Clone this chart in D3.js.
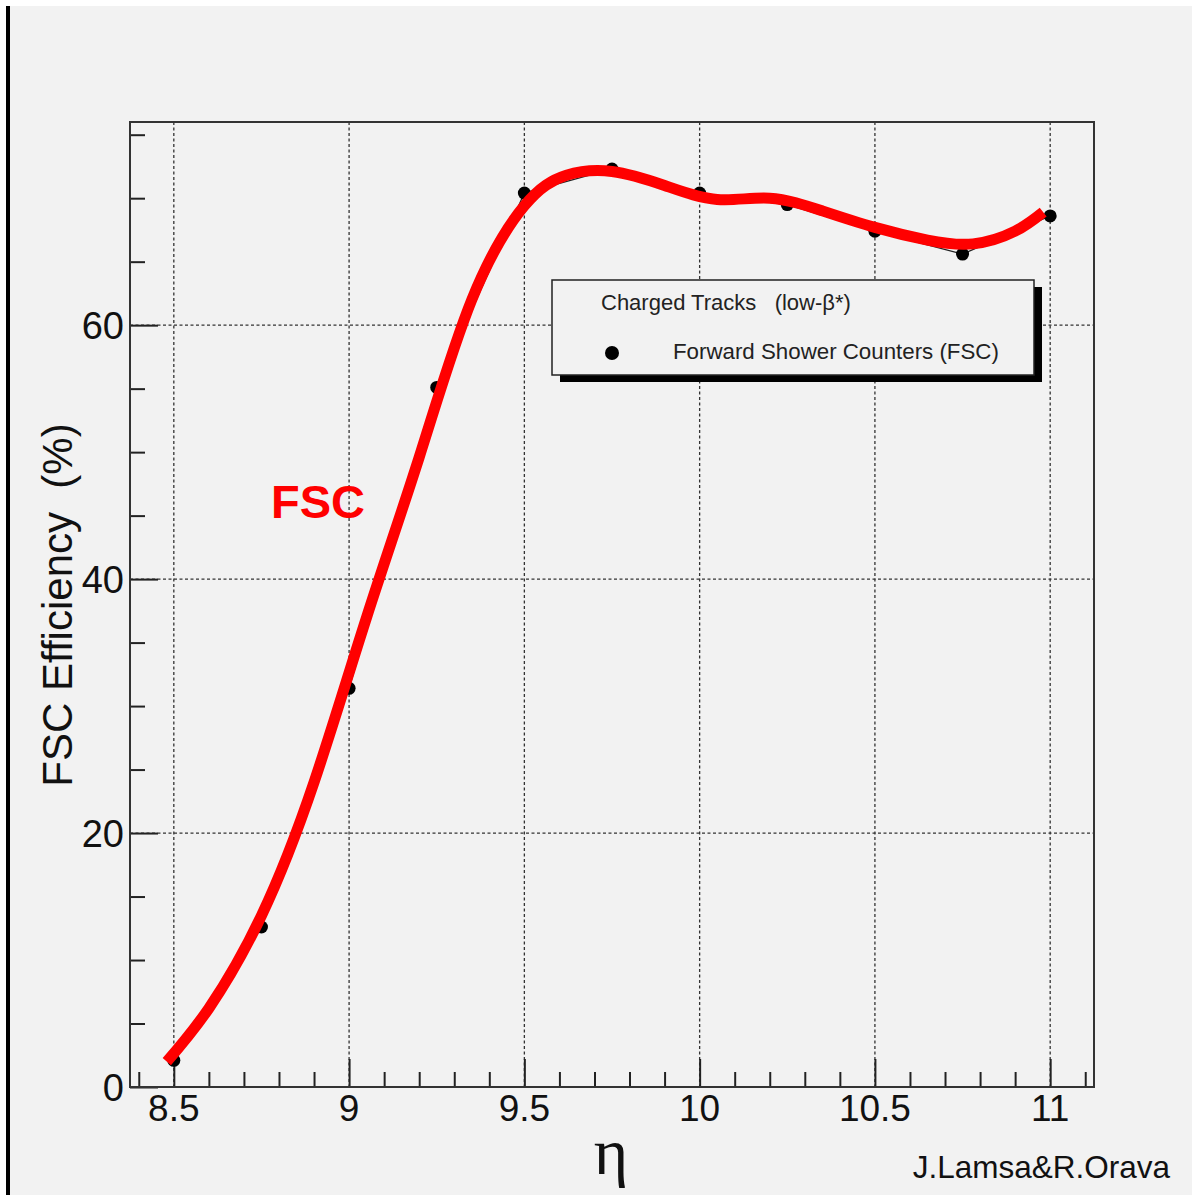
<!DOCTYPE html>
<html>
<head>
<meta charset="utf-8">
<script src="https://cdn.jsdelivr.net/npm/d3@7"></script>
<style>
  html, body { margin: 0; padding: 0; background: #fff; }
  svg { display: block; font-family: "Liberation Sans", Arial, sans-serif; }
</style>
</head>
<body>
<svg id="chart" width="1192" height="1195"></svg>
<script>
// measured points (FSC)
var etaPoints = [8.5, 8.75, 9.0, 9.25, 9.5, 9.75, 10.0, 10.25, 10.5, 10.75, 11.0];
var effPoints = [2.1, 12.6, 31.4, 55.1, 70.4, 72.3, 70.4, 69.5, 67.4, 65.6, 68.6];

// hand drawn red curve through the points
var curveEta = [8.48, 8.6, 8.75, 8.9, 9.05, 9.2, 9.35, 9.5, 9.62, 9.75, 9.9, 10.05, 10.2, 10.35, 10.5, 10.65, 10.78, 10.9, 10.98];
var curveEff = [2.0, 6.2, 13.5, 24.0, 37.0, 49.6, 62.0, 69.4, 71.8, 72.1, 71.0, 69.9, 70.0, 69.0, 67.7, 66.7, 66.4, 67.4, 68.9];

var xMajor = [8.5, 9, 9.5, 10, 10.5, 11];
var xLabels = ["8.5", "9", "9.5", "10", "10.5", "11"];
var yMajor = [0, 20, 40, 60];
var yGrid = [20, 40, 60];

const frame = { left: 130, right: 1094, top: 122, bottom: 1087 };

var svg = d3.select("#chart");

// canvas background + left bar
svg.append("rect").attr("x", 10).attr("y", 6).attr("width", 1182).attr("height", 1189).attr("fill", "#f2f2f2");
svg.append("rect").attr("x", 6).attr("y", 6).attr("width", 4).attr("height", 1189).attr("fill", "#000");

var x = d3.scaleLinear().domain([8.375, 11.125]).range([frame.left, frame.right]);
var y = d3.scaleLinear().domain([0, 76]).range([frame.bottom, frame.top]);

// grid
var grid = svg.append("g").attr("stroke", "#333").attr("stroke-width", 1.3).attr("stroke-dasharray", "3,2.5");
grid.selectAll("line.gx").data(xMajor).enter().append("line")
    .attr("x1", d => x(d)).attr("x2", d => x(d))
    .attr("y1", frame.top).attr("y2", frame.bottom);
grid.selectAll("line.gy").data(yGrid).enter().append("line")
    .attr("x1", frame.left).attr("x2", frame.right)
    .attr("y1", d => y(d)).attr("y2", d => y(d));

// axes with ROOT like ticks (major long, minor short)
var xAxis = d3.axisBottom(x)
    .tickValues(d3.range(84, 112).map(d => d / 10))
    .tickSize(0)
    .tickFormat("");
var gx = svg.append("g").attr("transform", "translate(0," + frame.bottom + ")").call(xAxis);
gx.select(".domain").remove();
gx.selectAll(".tick line")
    .attr("y2", d => (Math.abs(d * 2 - Math.round(d * 2)) < 1e-6) ? -28 : -15)
    .attr("stroke", "#222").attr("stroke-width", 2);

svg.append("g").selectAll("text").data(xMajor).enter().append("text")
    .attr("x", d => x(d)).attr("y", 1121)
    .attr("text-anchor", "middle")
    .attr("font-size", 37).attr("fill", "#111")
    .text((d, i) => xLabels[i]);

var yAxis = d3.axisLeft(y)
    .tickValues(d3.range(0, 80, 5))
    .tickSize(0)
    .tickFormat("");
var gy = svg.append("g").attr("transform", "translate(" + frame.left + ",0)").call(yAxis);
gy.select(".domain").remove();
gy.selectAll(".tick line")
    .attr("x2", d => (d % 20 === 0) ? 28 : 15)
    .attr("stroke", "#222").attr("stroke-width", 2);

svg.append("g").selectAll("text").data(yMajor).enter().append("text")
    .attr("x", 124).attr("y", d => y(d) + 14)
    .attr("text-anchor", "end")
    .attr("font-size", 38).attr("fill", "#111")
    .text(d => d);

// frame
svg.append("rect")
    .attr("x", frame.left).attr("y", frame.top)
    .attr("width", frame.right - frame.left).attr("height", frame.bottom - frame.top)
    .attr("fill", "none").attr("stroke", "#333").attr("stroke-width", 2);

// points data
var pts = etaPoints.map((d, i) => ({ eta: d, eff: effPoints[i] }));
var fit = curveEta.map((d, i) => ({ eta: d, eff: curveEff[i] }));

svg.append("path").datum(pts)
    .attr("fill", "none").attr("stroke", "#222").attr("stroke-width", 1.3)
    .attr("d", d3.line().x(d => x(d.eta)).y(d => y(d.eff)));

svg.append("g").selectAll("circle").data(pts).enter().append("circle")
    .attr("cx", d => x(d.eta)).attr("cy", d => y(d.eff))
    .attr("r", 6.5).attr("fill", "#000");

svg.append("path").datum(fit)
    .attr("fill", "none").attr("stroke", "#ff0000").attr("stroke-width", 11)
    .attr("stroke-linecap", "butt").attr("stroke-linejoin", "round")
    .attr("d", d3.line().curve(d3.curveNatural).x(d => x(d.eta)).y(d => y(d.eff)));

// FSC label
svg.append("text")
    .attr("x", 271).attr("y", 518)
    .attr("font-size", 47).attr("font-weight", "bold").attr("fill", "#ff0000")
    .text("FSC");

// legend
var legend = svg.append("g");
legend.append("rect").attr("x", 560).attr("y", 287).attr("width", 482).attr("height", 95).attr("fill", "#000");
legend.append("rect").attr("x", 552).attr("y", 280).attr("width", 482).attr("height", 95)
    .attr("fill", "#f2f2f2").attr("stroke", "#222").attr("stroke-width", 1.5);
legend.append("text").attr("x", 601).attr("y", 310).attr("font-size", 22).attr("fill", "#222")
    .style("white-space", "pre")
    .text("Charged Tracks   (low-β*)");
legend.append("circle").attr("cx", 612).attr("cy", 353).attr("r", 7).attr("fill", "#000");
legend.append("text").attr("x", 673).attr("y", 359).attr("font-size", 22.3).attr("fill", "#222")
    .text("Forward Shower Counters (FSC)");

// axis titles
svg.append("text")
    .attr("transform", "translate(72,605) rotate(-90)")
    .attr("text-anchor", "middle")
    .attr("font-size", 42).attr("fill", "#111")
    .style("white-space", "pre")
    .text("FSC Efficiency  (%)");

svg.append("text")
    .attr("x", 611).attr("y", 1174)
    .attr("text-anchor", "middle")
    .attr("font-family", "Liberation Serif, serif")
    .attr("font-size", 66).attr("fill", "#111")
    .text("η");

svg.append("text")
    .attr("x", 1170).attr("y", 1178)
    .attr("text-anchor", "end")
    .attr("font-size", 31.5).attr("fill", "#111")
    .text("J.Lamsa&R.Orava");
</script>
</body>
</html>
